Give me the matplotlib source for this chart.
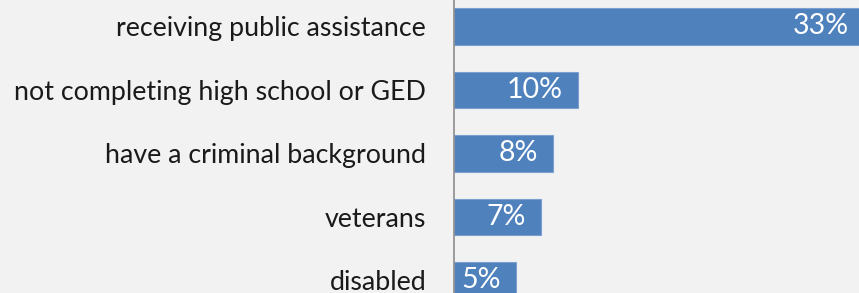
import matplotlib.pyplot as plt

categories = ["receiving public assistance", "not completing high school or GED",
              "have a criminal background", "veterans", "disabled"]
values = [33, 10, 8, 7, 5]
value_labels = ["33%", "10%", "8%", "7%", "5%"]

plt.rcParams['font.family'] = ['Lato', 'DejaVu Sans']

fig = plt.figure(figsize=(8.59, 2.93), dpi=100, facecolor='#f2f2f2')
ax = fig.add_axes([454 / 859, 0, 1 - 454 / 859, 1])
ax.set_facecolor('#f2f2f2')

y = list(range(len(categories)))
ax.barh(y, values, height=0.58, color='#4f81bd', edgecolor='#7a9fd0', linewidth=0.8)

ax.set_xlim(0, 32.6)
ax.set_ylim(4.197, -0.417)

ax.set_yticks(y)
ax.set_yticklabels(categories, fontsize=19.3, color='#1a1a1a')
ax.tick_params(axis='y', length=0, pad=20)
ax.set_xticks([])

for s in ['top', 'right', 'bottom']:
    ax.spines[s].set_visible(False)
ax.spines['left'].set_color('#8c8c8c')
ax.spines['left'].set_linewidth(1.2)

for i, v in enumerate(values):
    ax.text(v - 1.25, i, value_labels[i], ha='right', va='center',
            color='white', fontsize=20.5)

fig.savefig('out.png', dpi=100, facecolor='#f2f2f2')
